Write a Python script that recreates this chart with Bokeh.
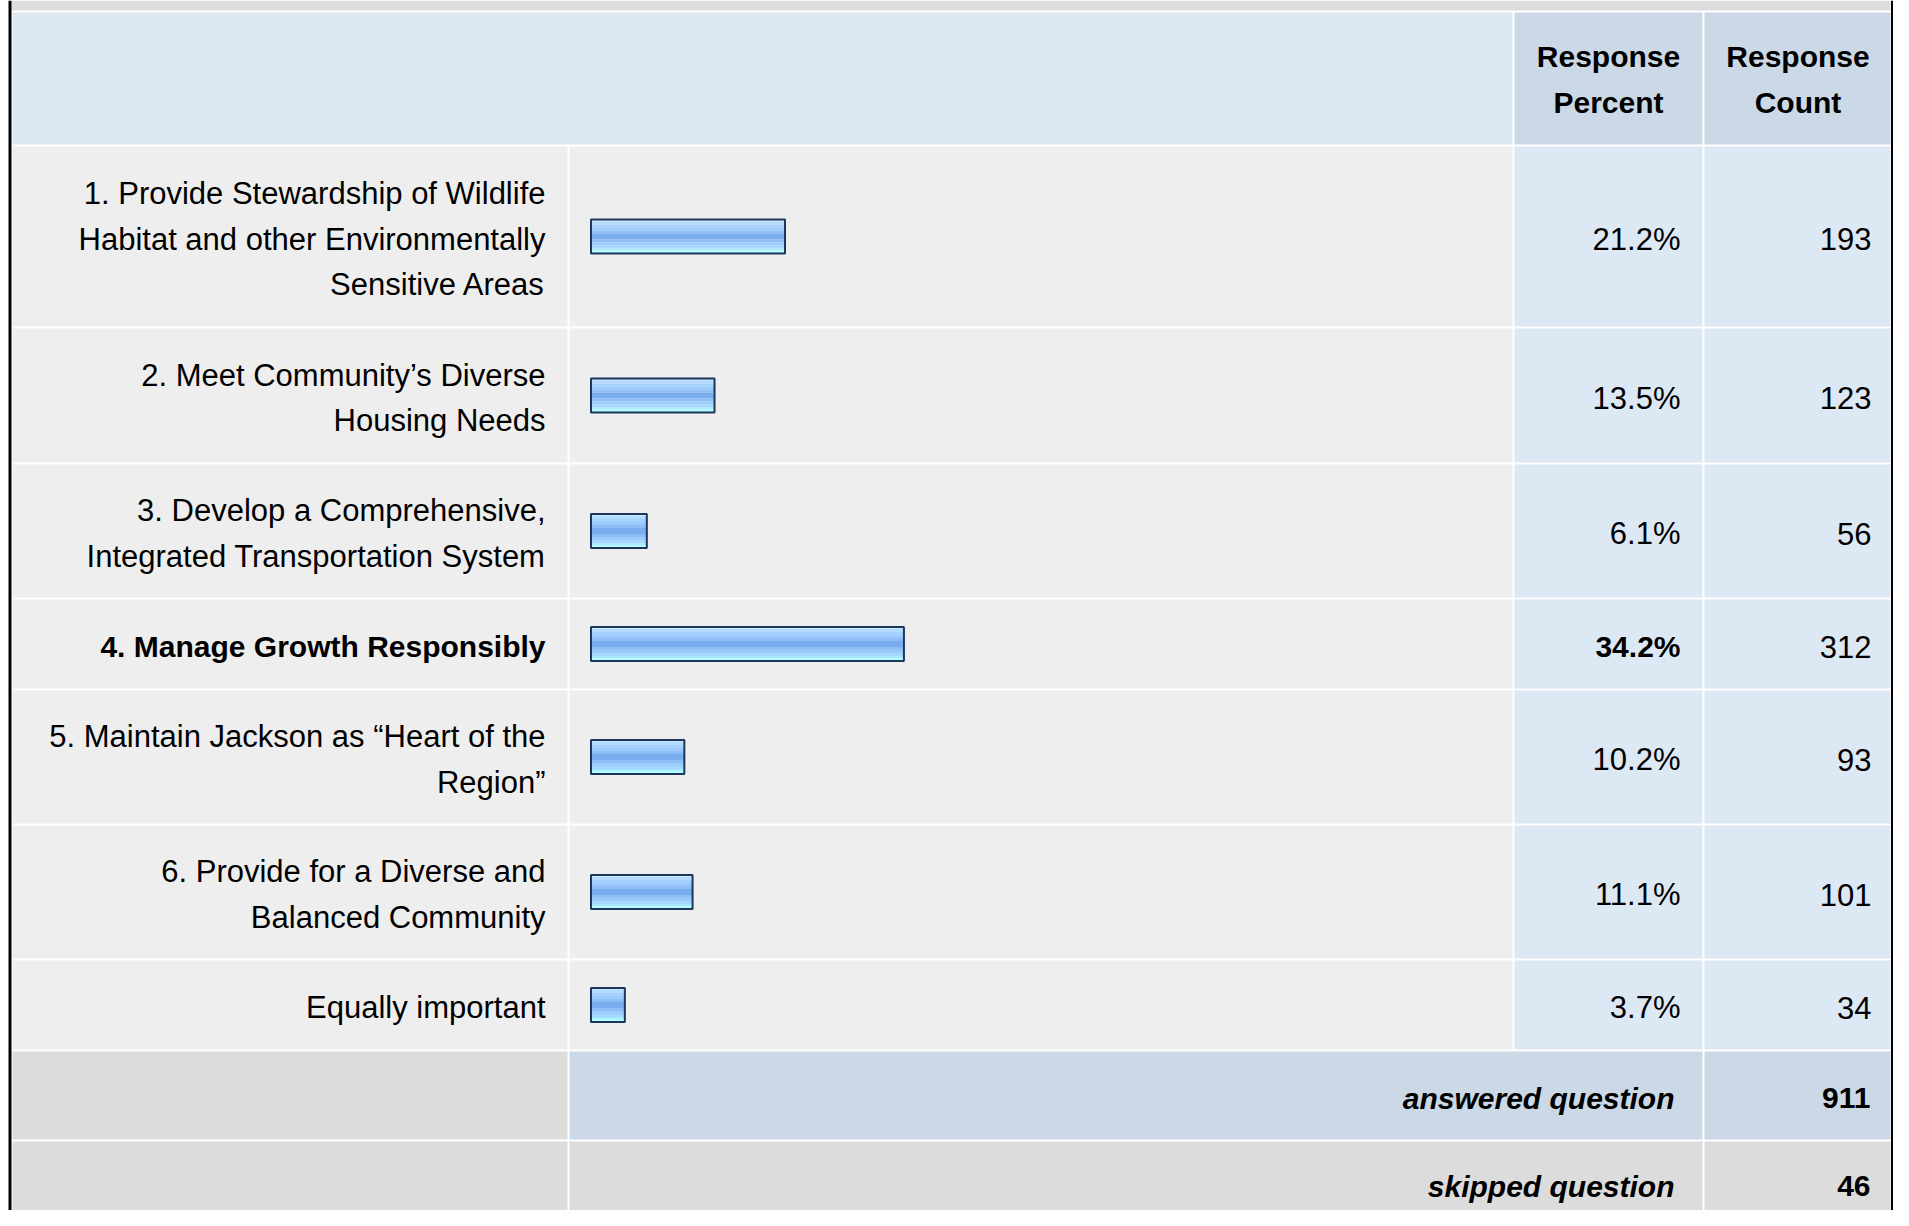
from bokeh.plotting import figure
from bokeh.models import Range1d
from bokeh.embed import file_html
from bokeh.resources import INLINE
from bokeh.core.properties import value

# ---------------- data ----------------
labels = [
    "1. Provide Stewardship of Wildlife\nHabitat and other Environmentally\nSensitive Areas",
    "2. Meet Community\u2019s Diverse\nHousing Needs",
    "3. Develop a Comprehensive,\nIntegrated Transportation System",
    "4. Manage Growth Responsibly",
    "5. Maintain Jackson as \u201cHeart of the\nRegion\u201d",
    "6. Provide for a Diverse and\nBalanced Community",
    "Equally important",
]
percents = [21.2, 13.5, 6.1, 34.2, 10.2, 11.1, 3.7]
counts = [193, 123, 56, 312, 93, 101, 34]
highlight = [False, False, False, True, False, False, False]
header_cols = ["Response\nPercent", "Response\nCount"]
summary_labels = ["answered question", "skipped question"]
summary_values = [911, 46]

# ---------------- layout (pixels) ----------------
W, H = 1893, 1210
FONT = value("Liberation Sans")

col_label = (12, 567)
col_bar = (569, 1512)
col_pct = (1514, 1702)
col_cnt = (1704, 1890)
header_rows = (12, 144)
row_edges = [(146, 326), (328, 462), (464, 597), (599, 688),
             (690, 823), (825, 958), (960, 1049)]
summary_rows = [(1051, 1139), (1141, 1230)]

C_GREY = "#dcdcdc"
C_ROW = "#eeeeee"
C_BLUE = "#dde8f5"
C_BLUE2 = "#cbd8e6"

BAR0 = 590.5   # pixel where 0 % sits
K = 9.15       # pixels per percent
LINE = 45.7
BASE = 2.6

p = figure(width=W, height=H,
           x_range=Range1d(0, W), y_range=Range1d(H, 0),
           output_backend="svg", toolbar_location=None,
           x_axis_type=None, y_axis_type=None, min_border=0)
p.outline_line_color = None
p.background_fill_color = "white"
p.border_fill_color = "white"
p.xgrid.visible = False
p.ygrid.visible = False
p.extra_x_ranges = {"pct": Range1d((0 - BAR0) / K, (W - BAR0) / K)}

# ---------------- cells ----------------
L, R, T, B, C = [], [], [], [], []
def cell(x, y, c):
    L.append(x[0]); R.append(x[1]); T.append(y[0]); B.append(y[1]); C.append(c)

cell((11, 1890), (0, 10), "#dddddd")
cell((12, col_bar[1]), header_rows, C_BLUE)
cell(col_pct, header_rows, C_BLUE2)
cell(col_cnt, header_rows, C_BLUE2)
for r in row_edges:
    cell(col_label, r, C_ROW)
    cell(col_bar, r, C_ROW)
    cell(col_pct, r, C_BLUE)
    cell(col_cnt, r, C_BLUE)
cell(col_label, summary_rows[0], C_GREY)
cell((col_bar[0], col_pct[1]), summary_rows[0], C_BLUE2)
cell(col_cnt, summary_rows[0], C_BLUE2)
cell(col_label, summary_rows[1], C_GREY)
cell((col_bar[0], col_pct[1]), summary_rows[1], C_GREY)
cell(col_cnt, summary_rows[1], C_GREY)
# outer black frame
cell((8, 11), (0, 1230), "#000000")
cell((1890.5, 1893), (0, 1230), "#000000")

p.quad(left=L, right=R, top=T, bottom=B, fill_color=C, line_color=None)

# ---------------- bars ----------------
centers = [(a + b) / 2 for a, b in row_edges]
stripes = [(-17, -15, "#cbe8ff"), (-15, -12, "#b2dbff"), (-12, -9, "#a6d2ff"),
           (-9, -6, "#9ccafd"), (-6, -3, "#8ebef8"), (-3, 3, "#78aef0"),
           (3, 6, "#8cbff6"), (6, 9, "#9acbfa"), (9, 12, "#a4d8fe"),
           (12, 14, "#aae8ff"), (14, 17, "#b2fdff")]
for a, b, col in stripes:
    p.hbar(y=[c + (a + b) / 2 for c in centers], height=b - a, left=0,
           right=percents, x_range_name="pct", fill_color=col, line_color=None)
p.hbar(y=centers, height=34, left=0, right=percents, x_range_name="pct",
       fill_alpha=0, line_color="#1c365c", line_width=2)

# ---------------- texts ----------------
groups = {}
def add(style, size, align, x, y, t):
    g = groups.setdefault((style, size, align), ([], [], []))
    g[0].append(x); g[1].append(y); g[2].append(t)

for i, lab in enumerate(labels):
    lines = lab.split("\n")
    n = len(lines)
    st = "bold" if highlight[i] else "normal"
    sz = "30px" if highlight[i] else "31px"
    for j, ln in enumerate(lines):
        add(st, sz, "right", 545, centers[i] + BASE + (j - (n - 1) / 2) * LINE, ln)
    add(st, sz, "right", 1680, centers[i] + BASE, f"{percents[i]:.1f}%")
    add("normal", "31px", "right", 1871, centers[i] + BASE, str(counts[i]))

hc = (header_rows[0] + header_rows[1]) / 2
for colx, h in zip([(col_pct[0] + col_pct[1]) / 2, (col_cnt[0] + 1891) / 2], header_cols):
    lines = h.split("\n")
    n = len(lines)
    for j, ln in enumerate(lines):
        add("bold", "30px", "center", colx, hc + 1.0 + (j - (n - 1) / 2) * LINE, ln)

for (a, b), lab, v in zip(summary_rows, summary_labels, summary_values):
    c = (a + b) / 2 if b < 1200 else a + 42
    add("bold italic", "30px", "right", 1674, c + BASE, lab)
    add("bold", "30px", "right", 1870, c + BASE, str(v))

for (st, sz, al), (xs, ys, ts) in groups.items():
    p.text(x=xs, y=ys, text=ts, text_font=FONT, text_font_size=sz,
           text_font_style=st, text_align=al, text_baseline="alphabetic",
           text_color="#000000")

open("out.html", "w").write(file_html(p, INLINE))
